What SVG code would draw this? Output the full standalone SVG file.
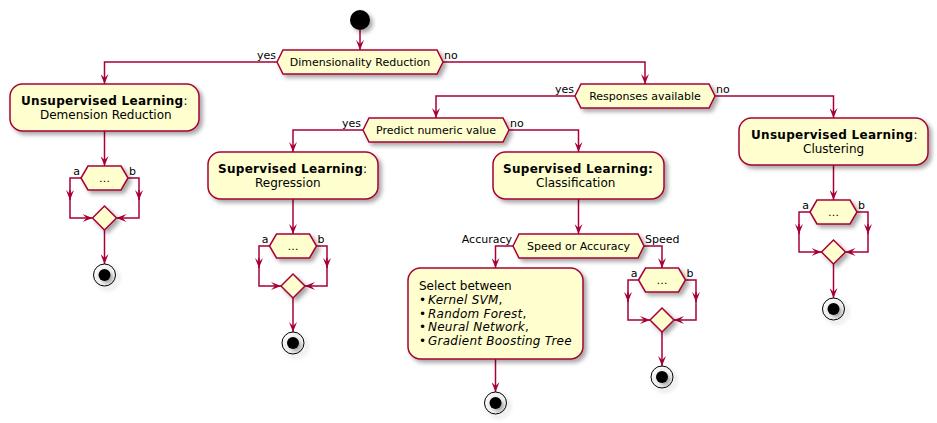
<svg xmlns="http://www.w3.org/2000/svg" width="937" height="423" viewBox="0 0 937 423">
<defs>
<filter id="sh" x="-20%" y="-20%" width="150%" height="160%"><feDropShadow dx="3" dy="3" stdDeviation="2" flood-color="#000" flood-opacity="0.35"/></filter>
<marker id="ah" viewBox="0 0 10 8" refX="10" refY="4" markerWidth="10" markerHeight="8" markerUnits="userSpaceOnUse" orient="auto"><path d="M0,0 L10,4 L0,8 L4,4 Z" fill="#A80036"/></marker>
</defs>
<style>
.n{fill:#FEFECE;stroke:#A80036;stroke-width:1.5;filter:url(#sh)}
.c path{fill:none;stroke:#A80036;stroke-width:1.5}
.h{font-family:"DejaVu Sans",sans-serif;font-size:11px;fill:#000}
.t{font-family:"DejaVu Sans",sans-serif;font-size:12px;fill:#000}
.b{font-weight:bold;letter-spacing:0.3px}
.i{font-style:italic;letter-spacing:0.25px}
.m{text-anchor:middle}
.e{text-anchor:end}
.st{fill:#000;filter:url(#sh)}
.eo{fill:none;stroke:#000;stroke-width:1;filter:url(#sh)}
</style>
<rect width="937" height="423" fill="#fff"/>
<g id="connectors" class="c">
<path d="M360,30 V50" marker-end="url(#ah)"/>
<path d="M277,62 H104.5 V84" marker-end="url(#ah)"/>
<path d="M443,62 H645 V84" marker-end="url(#ah)"/>
<path d="M575,96 H436 V118" marker-end="url(#ah)"/>
<path d="M715,96 H833.5 V118" marker-end="url(#ah)"/>
<path d="M363,130 H293 V152" marker-end="url(#ah)"/>
<path d="M509,130 H578.5 V152" marker-end="url(#ah)"/>
<path d="M104.5,131 V166" marker-end="url(#ah)"/>
<path d="M81,178 H70 V200"/><path d="M70,190 V200" marker-end="url(#ah)"/><path d="M70,200 V218 H92.5" marker-end="url(#ah)"/>
<path d="M128,178 H139 V200"/><path d="M139,190 V200" marker-end="url(#ah)"/><path d="M139,200 V218 H116.5" marker-end="url(#ah)"/>
<path d="M104.5,230 V264" marker-end="url(#ah)"/>
<path d="M293,199 V234" marker-end="url(#ah)"/>
<path d="M269.5,246 H259 V268"/><path d="M259,258 V268" marker-end="url(#ah)"/><path d="M259,268 V286 H281" marker-end="url(#ah)"/>
<path d="M316.5,246 H327 V268"/><path d="M327,258 V268" marker-end="url(#ah)"/><path d="M327,268 V286 H305" marker-end="url(#ah)"/>
<path d="M293,298 V332" marker-end="url(#ah)"/>
<path d="M578.5,199 V234" marker-end="url(#ah)"/>
<path d="M513,246 H495.5 V268" marker-end="url(#ah)"/>
<path d="M495.5,359 V392" marker-end="url(#ah)"/>
<path d="M644,246 H662 V268" marker-end="url(#ah)"/>
<path d="M638.5,280 H628 V302"/><path d="M628,292 V302" marker-end="url(#ah)"/><path d="M628,302 V320 H650" marker-end="url(#ah)"/>
<path d="M685.5,280 H696 V302"/><path d="M696,292 V302" marker-end="url(#ah)"/><path d="M696,302 V320 H674" marker-end="url(#ah)"/>
<path d="M662,332 V366" marker-end="url(#ah)"/>
<path d="M833.5,165 V200" marker-end="url(#ah)"/>
<path d="M810,212 H799 V234"/><path d="M799,224 V234" marker-end="url(#ah)"/><path d="M799,234 V252 H821.5" marker-end="url(#ah)"/>
<path d="M857,212 H868 V234"/><path d="M868,224 V234" marker-end="url(#ah)"/><path d="M868,234 V252 H845.5" marker-end="url(#ah)"/>
<path d="M833.5,264 V298" marker-end="url(#ah)"/>
</g>
<g id="start"><circle class="st" cx="360" cy="20" r="10"/></g>
<g id="d_dim">
<polygon class="n" points="277,62 283,50 437,50 443,62 437,74 283,74"/>
<text class="h m" x="360" y="66">Dimensionality Reduction</text>
<text class="h e" x="276" y="59">yes</text><text class="h" x="444" y="59">no</text>
</g>
<g id="a_dimred">
<rect class="n" x="10" y="84" width="189" height="47" rx="12.5"/>
<text class="t" x="21" y="104.5"><tspan class="b">Unsupervised Learning</tspan>:</text>
<text class="t" x="40" y="118.5">Demension Reduction</text>
</g>
<g id="d_dr_split">
<polygon class="n" points="81,178 88,166 121,166 128,178 121,190 88,190"/>
<text class="h m" x="104.5" y="182" fill="#333">…</text>
<text class="h e" x="80" y="175">a</text><text class="h" x="129" y="175">b</text>
</g>
<g id="d_dr_merge"><polygon class="n" points="92.5,218 104.5,206 116.5,218 104.5,230"/></g>
<g id="end_dr"><circle class="eo" cx="104.5" cy="275" r="11"/><circle class="st" cx="104.5" cy="275" r="6"/></g>
<g id="d_resp">
<polygon class="n" points="575,96 581,84 709,84 715,96 709,108 581,108"/>
<text class="h m" x="645" y="100">Responses available</text>
<text class="h e" x="574" y="93">yes</text><text class="h" x="716" y="93">no</text>
</g>
<g id="d_pred">
<polygon class="n" points="363,130 369,118 503,118 509,130 503,142 369,142"/>
<text class="h m" x="436" y="134">Predict numeric value</text>
<text class="h e" x="361" y="127">yes</text><text class="h" x="510" y="127">no</text>
</g>
<g id="a_reg">
<rect class="n" x="208" y="152" width="170" height="47" rx="12.5"/>
<text class="t" x="218" y="172.5"><tspan class="b">Supervised Learning</tspan>:</text>
<text class="t" x="255" y="186.5">Regression</text>
</g>
<g id="d_reg_split">
<polygon class="n" points="269.5,246 276.5,234 309.5,234 316.5,246 309.5,258 276.5,258"/>
<text class="h m" x="293" y="250" fill="#333">…</text>
<text class="h e" x="268.5" y="243">a</text><text class="h" x="317.5" y="243">b</text>
</g>
<g id="d_reg_merge"><polygon class="n" points="281,286 293,274 305,286 293,298"/></g>
<g id="end_reg"><circle class="eo" cx="293" cy="343" r="11"/><circle class="st" cx="293" cy="343" r="6"/></g>
<g id="a_cls">
<rect class="n" x="493" y="152" width="171" height="47" rx="12.5"/>
<text class="t b" x="503" y="172.5">Supervised Learning:</text>
<text class="t" x="536" y="186.5">Classification</text>
</g>
<g id="d_speed">
<polygon class="n" points="513,246 519,234 638,234 644,246 638,258 519,258"/>
<text class="h m" x="578.5" y="250">Speed or Accuracy</text>
<text class="h e" x="512" y="243">Accuracy</text><text class="h" x="645" y="243">Speed</text>
</g>
<g id="a_select">
<rect class="n" x="408" y="268" width="175" height="91" rx="12.5"/>
<text class="t" x="419" y="290">Select between</text>
<text class="t" x="419" y="303.8">•<tspan class="i" x="428">Kernel SVM</tspan>,</text>
<text class="t" x="419" y="317.6">•<tspan class="i" x="428">Random Forest</tspan>,</text>
<text class="t" x="419" y="331.4">•<tspan class="i" x="428">Neural Network</tspan>,</text>
<text class="t" x="419" y="345.2">•<tspan class="i" x="428">Gradient Boosting Tree</tspan></text>
</g>
<g id="end_select"><circle class="eo" cx="495.5" cy="403" r="11"/><circle class="st" cx="495.5" cy="403" r="6"/></g>
<g id="d_spd_split">
<polygon class="n" points="638.5,280 645.5,268 678.5,268 685.5,280 678.5,292 645.5,292"/>
<text class="h m" x="662" y="284" fill="#333">…</text>
<text class="h e" x="637.5" y="277">a</text><text class="h" x="686.5" y="277">b</text>
</g>
<g id="d_spd_merge"><polygon class="n" points="650,320 662,308 674,320 662,332"/></g>
<g id="end_spd"><circle class="eo" cx="662" cy="377" r="11"/><circle class="st" cx="662" cy="377" r="6"/></g>
<g id="a_clu">
<rect class="n" x="739" y="118" width="189" height="47" rx="12.5"/>
<text class="t" x="751" y="138.5"><tspan class="b">Unsupervised Learning</tspan>:</text>
<text class="t" x="803" y="152.5">Clustering</text>
</g>
<g id="d_clu_split">
<polygon class="n" points="810,212 817,200 850,200 857,212 850,224 817,224"/>
<text class="h m" x="833.5" y="216" fill="#333">…</text>
<text class="h e" x="809" y="209">a</text><text class="h" x="858" y="209">b</text>
</g>
<g id="d_clu_merge"><polygon class="n" points="821.5,252 833.5,240 845.5,252 833.5,264"/></g>
<g id="end_clu"><circle class="eo" cx="833.5" cy="309" r="11"/><circle class="st" cx="833.5" cy="309" r="6"/></g>
</svg>
